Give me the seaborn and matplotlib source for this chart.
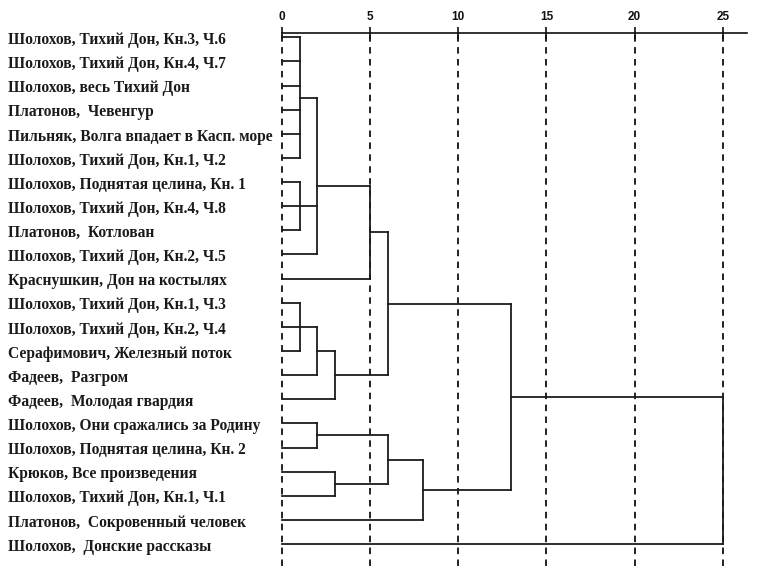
import numpy as np
import pandas as pd
import matplotlib
matplotlib.use("Agg")
import matplotlib.pyplot as plt
import matplotlib.transforms as mtransforms
import seaborn as sns

# ---- data ----
labels = [
    "Шолохов, Тихий Дон, Кн.3, Ч.6",
    "Шолохов, Тихий Дон, Кн.4, Ч.7",
    "Шолохов, весь Тихий Дон",
    "Платонов,  Чевенгур",
    "Пильняк, Волга впадает в Касп. море",
    "Шолохов, Тихий Дон, Кн.1, Ч.2",
    "Шолохов, Поднятая целина, Кн. 1",
    "Шолохов, Тихий Дон, Кн.4, Ч.8",
    "Платонов,  Котлован",
    "Шолохов, Тихий Дон, Кн.2, Ч.5",
    "Краснушкин, Дон на костылях",
    "Шолохов, Тихий Дон, Кн.1, Ч.3",
    "Шолохов, Тихий Дон, Кн.2, Ч.4",
    "Серафимович, Железный поток",
    "Фадеев,  Разгром",
    "Фадеев,  Молодая гвардия",
    "Шолохов, Они сражались за Родину",
    "Шолохов, Поднятая целина, Кн. 2",
    "Крюков, Все произведения",
    "Шолохов, Тихий Дон, Кн.1, Ч.1",
    "Платонов,  Сокровенный человек",
    "Шолохов,  Донские рассказы",
]
# merges: members are leaf indices (int) or earlier clusters ("c<k>")
merge_members = [
    [0, 1, 2, 3, 4, 5],   # c0
    [6, 7, 8],            # c1
    ["c0", "c1", 9],      # c2
    ["c2", 10],           # c3
    [11, 12, 13],         # c4
    ["c4", 14],           # c5
    ["c5", 15],           # c6
    ["c3", "c6"],         # c7
    [16, 17],             # c8
    [18, 19],             # c9
    ["c8", "c9"],         # c10
    ["c10", 20],          # c11
    ["c7", "c11"],        # c12
    ["c12", 21],          # c13
]
merge_height = [1, 1, 2, 5, 1, 2, 3, 6, 2, 3, 6, 8, 13, 25]
scale_ticks = [0, 5, 10, 15, 20, 25]

# ---- build segments ----
node_y, node_x = {}, {}
rows = []
seg = 0
for k, (members, h) in enumerate(zip(merge_members, merge_height)):
    ys = []
    for m in members:
        if isinstance(m, str):
            cy, cx = node_y[m], node_x[m]
        else:
            cy, cx = float(m), 0.0
        ys.append(cy)
        rows += [(cx, cy, seg), (h, cy, seg)]
        seg += 1
    rows += [(h, min(ys), seg), (h, max(ys), seg)]
    seg += 1
    node_y[f"c{k}"] = float(np.mean(ys))
    node_x[f"c{k}"] = float(h)
df = pd.DataFrame(rows, columns=["x", "y", "seg"])

# ---- figure ----
sns.set_theme(style="white")
plt.rcParams["font.family"] = ["Liberation Serif", "DejaVu Serif"]

W, H = 759, 566
fig = plt.figure(figsize=(W / 100, H / 100), dpi=100)
ax_left, ax_right, ax_top = 282 / W, 746.7 / W, 1 - 32.7 / H
ax = fig.add_axes([ax_left, 0.0, ax_right - ax_left, ax_top])

n = len(labels)
ax.set_xlim(0, 26.36)
ax.set_ylim(n - 1 + 0.91, -0.19)

for t in scale_ticks:
    ax.axvline(t, color="#111111", lw=1.3, dashes=(3.6, 3.0), zorder=1, clip_on=False)

sns.lineplot(data=df, x="x", y="y", units="seg", estimator=None, sort=False,
             color="#1c1c1c", lw=1.3, ax=ax, zorder=3)
for ln in ax.lines:
    ln.set_clip_on(False)
    ln.set_solid_capstyle("projecting")

for s in ["left", "right", "bottom"]:
    ax.spines[s].set_visible(False)
ax.spines["top"].set_linewidth(1.2)
ax.spines["top"].set_color("#111111")

ax.set_xticks(scale_ticks)
ax.set_xticklabels([str(t) for t in scale_ticks], fontfamily="Liberation Sans",
                   fontweight="bold", fontsize=8.5, color="#111111")
ax.xaxis.tick_top()
ax.tick_params(axis="x", top=True, bottom=False, labeltop=True, labelbottom=False,
               direction="inout", length=8, width=1.2, color="#111111", pad=3)
ax.set_yticks([])
ax.set_xlabel("")
ax.set_ylabel("")
ax.set_facecolor("none")

trans = mtransforms.blended_transform_factory(fig.transFigure, ax.transData)
trans = mtransforms.offset_copy(trans, fig=fig, y=-6.7 * 72 / 100, units="points")
for i, lab in enumerate(labels):
    ax.text(8.3 / W, i, lab, transform=trans, ha="left", va="baseline",
            fontsize=11.2, fontweight="bold", color="#1a1a1a", clip_on=False)

fig.savefig("out.png", dpi=100)
